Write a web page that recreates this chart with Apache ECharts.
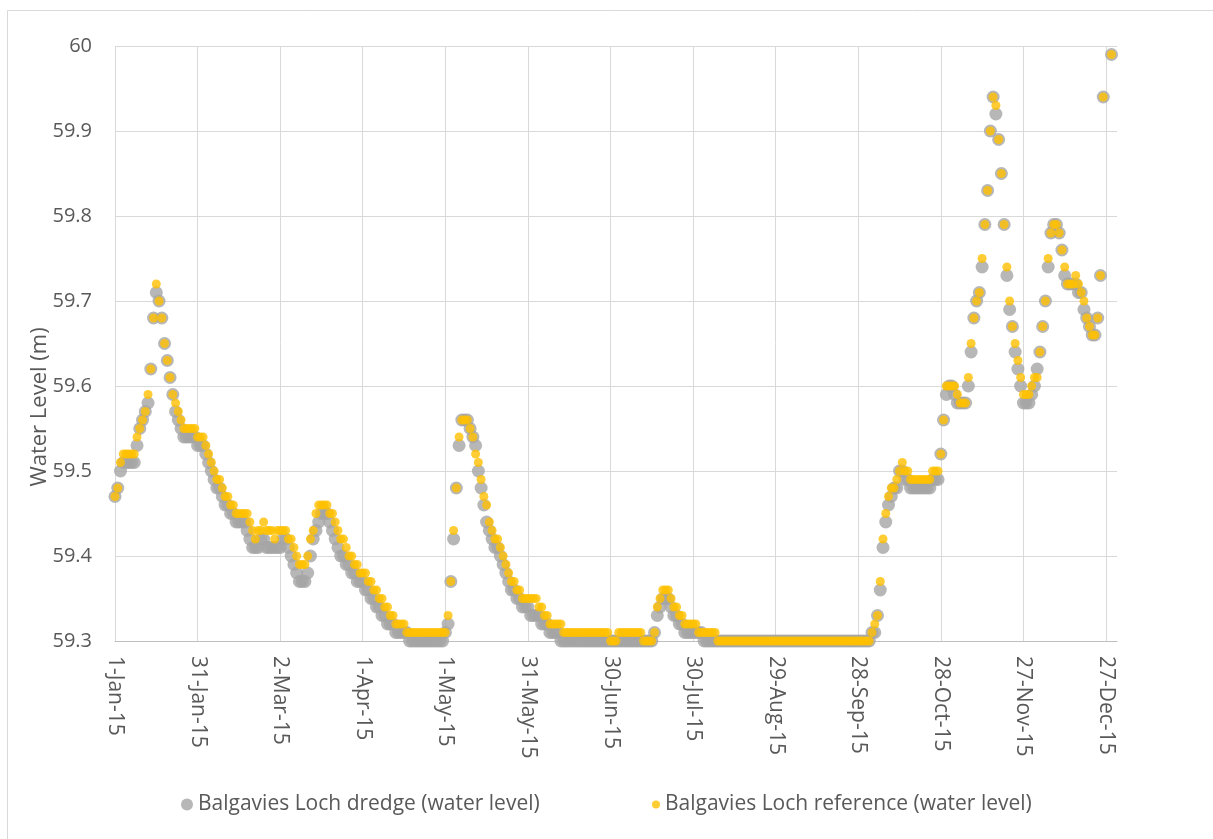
<!DOCTYPE html>
<html>
<head>
<meta charset="utf-8">
<script src="https://cdn.jsdelivr.net/npm/echarts@6/dist/echarts.min.js"></script>
<style>
html,body{margin:0;padding:0;background:#fff;}
#chart{width:1213px;height:839px;}
</style>
</head>
<body>
<div id="chart"></div>
<script>
// ---- tick labels (every 30 days from 1-Jan-15) ----
const xTickLabels = ['1-Jan-15','31-Jan-15','2-Mar-15','1-Apr-15','1-May-15','31-May-15','30-Jun-15','30-Jul-15','29-Aug-15','28-Sep-15','28-Oct-15','27-Nov-15','27-Dec-15'];
const seriesNames = ['Balgavies Loch dredge (water level)', 'Balgavies Loch reference (water level)'];

// ---- daily water level (m), one entry per day of the month ----
const dredgeJan = [59.47,59.48,59.50,59.51,59.51,59.51,59.51,59.51,59.53,59.55,59.56,59.57,59.58,59.62,59.68,59.71,59.70,59.68,59.65,59.63,59.61,59.59,59.57,59.56,59.55,59.54,59.54,59.54,59.54,59.54,59.53];
const dredgeFeb = [59.53,59.53,59.52,59.51,59.50,59.49,59.48,59.48,59.47,59.46,59.46,59.45,59.45,59.44,59.44,59.44,59.44,59.43,59.42,59.41,59.41,59.41,59.42,59.42,59.41,59.41,59.41,59.41];
const dredgeMar = [59.41,59.41,59.42,59.42,59.41,59.40,59.39,59.38,59.37,59.37,59.37,59.38,59.40,59.42,59.43,59.44,59.45,59.45,59.45,59.44,59.43,59.42,59.41,59.40,59.40,59.39,59.39,59.38,59.38,59.37,59.37];
const dredgeApr = [59.37,59.36,59.36,59.35,59.35,59.34,59.34,59.33,59.33,59.32,59.32,59.32,59.31,59.31,59.31,59.31,59.31,59.30,59.30,59.30,59.30,59.30,59.30,59.30,59.30,59.30,59.30,59.30,59.30,59.30];
const dredgeMay = [59.31,59.32,59.37,59.42,59.48,59.53,59.56,59.56,59.56,59.55,59.54,59.53,59.50,59.48,59.46,59.44,59.43,59.42,59.41,59.41,59.40,59.39,59.38,59.37,59.36,59.36,59.35,59.35,59.34,59.34,59.34];
const dredgeJun = [59.33,59.33,59.33,59.33,59.32,59.32,59.32,59.31,59.31,59.31,59.31,59.30,59.30,59.30,59.30,59.30,59.30,59.30,59.30,59.30,59.30,59.30,59.30,59.30,59.30,59.30,59.30,59.30,59.30,59.30];
const dredgeJul = [59.30,59.30,59.30,59.30,59.30,59.30,59.30,59.30,59.30,59.30,59.30,59.30,59.30,59.30,59.30,59.31,59.33,59.34,59.35,59.35,59.35,59.34,59.33,59.33,59.32,59.32,59.31,59.31,59.31,59.31,59.31];
const dredgeAug = [59.31,59.31,59.30,59.30,59.30,59.30,59.30,59.30,59.30,59.30,59.30,59.30,59.30,59.30,59.30,59.30,59.30,59.30,59.30,59.30,59.30,59.30,59.30,59.30,59.30,59.30,59.30,59.30,59.30,59.30,59.30];
const dredgeSep = [59.30,59.30,59.30,59.30,59.30,59.30,59.30,59.30,59.30,59.30,59.30,59.30,59.30,59.30,59.30,59.30,59.30,59.30,59.30,59.30,59.30,59.30,59.30,59.30,59.30,59.30,59.30,59.30,59.30,59.30];
const dredgeOct = [59.30,59.30,59.31,59.31,59.33,59.36,59.41,59.44,59.46,59.47,59.48,59.48,59.50,59.50,59.49,59.49,59.48,59.48,59.48,59.48,59.48,59.48,59.48,59.48,59.49,59.49,59.49,59.52,59.56,59.59,59.60];
const dredgeNov = [59.60,59.59,59.58,59.58,59.58,59.58,59.60,59.64,59.68,59.70,59.71,59.74,59.79,59.83,59.90,59.94,59.92,59.89,59.85,59.79,59.73,59.69,59.67,59.64,59.62,59.60,59.58,59.58,59.58,59.59];
const dredgeDec = [59.60,59.62,59.64,59.67,59.70,59.74,59.78,59.79,59.79,59.78,59.76,59.73,59.72,59.72,59.72,59.72,59.71,59.71,59.69,59.68,59.67,59.66,59.66,59.68,59.73,59.94,null,null,59.99,null,null];

const referenceJan = [59.47,59.48,59.51,59.52,59.52,59.52,59.52,59.52,59.54,59.55,59.56,59.57,59.59,59.62,59.68,59.72,59.70,59.68,59.65,59.63,59.61,59.59,59.58,59.57,59.56,59.55,59.55,59.55,59.55,59.55,59.54];
const referenceFeb = [59.54,59.54,59.53,59.52,59.51,59.50,59.49,59.49,59.48,59.47,59.47,59.46,59.46,59.45,59.45,59.45,59.45,59.45,59.44,59.43,59.42,59.43,59.43,59.44,59.43,59.43,59.43,59.42];
const referenceMar = [59.43,59.43,59.43,59.43,59.42,59.42,59.41,59.40,59.39,59.39,59.39,59.40,59.42,59.43,59.45,59.46,59.46,59.46,59.46,59.45,59.45,59.44,59.43,59.42,59.42,59.41,59.40,59.40,59.39,59.39,59.38];
const referenceApr = [59.38,59.38,59.37,59.37,59.36,59.36,59.35,59.35,59.34,59.34,59.33,59.33,59.32,59.32,59.32,59.32,59.31,59.31,59.31,59.31,59.31,59.31,59.31,59.31,59.31,59.31,59.31,59.31,59.31,59.31];
const referenceMay = [59.31,59.33,59.37,59.43,59.48,59.54,59.56,59.56,59.56,59.55,59.54,59.52,59.51,59.49,59.47,59.46,59.44,59.43,59.42,59.42,59.41,59.40,59.39,59.38,59.37,59.37,59.36,59.36,59.35,59.35,59.35];
const referenceJun = [59.35,59.35,59.35,59.34,59.34,59.33,59.33,59.32,59.32,59.32,59.32,59.32,59.31,59.31,59.31,59.31,59.31,59.31,59.31,59.31,59.31,59.31,59.31,59.31,59.31,59.31,59.31,59.31,59.31,59.30];
const referenceJul = [59.30,59.30,59.31,59.31,59.31,59.31,59.31,59.31,59.31,59.31,59.31,59.30,59.30,59.30,59.30,59.31,59.34,59.35,59.36,59.36,59.36,59.35,59.34,59.34,59.33,59.33,59.32,59.32,59.32,59.32,59.32];
const referenceAug = [59.31,59.31,59.31,59.31,59.31,59.31,59.31,59.30,59.30,59.30,59.30,59.30,59.30,59.30,59.30,59.30,59.30,59.30,59.30,59.30,59.30,59.30,59.30,59.30,59.30,59.30,59.30,59.30,59.30,59.30,59.30];
const referenceSep = [59.30,59.30,59.30,59.30,59.30,59.30,59.30,59.30,59.30,59.30,59.30,59.30,59.30,59.30,59.30,59.30,59.30,59.30,59.30,59.30,59.30,59.30,59.30,59.30,59.30,59.30,59.30,59.30,59.30,59.30];
const referenceOct = [59.30,59.30,59.31,59.32,59.33,59.37,59.42,59.45,59.47,59.48,59.48,59.49,59.50,59.51,59.50,59.50,59.49,59.49,59.49,59.49,59.49,59.49,59.49,59.49,59.50,59.50,59.50,59.52,59.56,59.60,59.60];
const referenceNov = [59.60,59.60,59.59,59.58,59.58,59.58,59.61,59.65,59.68,59.70,59.71,59.75,59.79,59.83,59.90,59.94,59.93,59.89,59.85,59.79,59.74,59.70,59.67,59.65,59.63,59.61,59.59,59.59,59.59,59.60];
const referenceDec = [59.61,59.61,59.64,59.67,59.70,59.75,59.78,59.79,59.79,59.78,59.76,59.74,59.72,59.72,59.72,59.73,59.72,59.71,59.70,59.68,59.67,59.66,59.66,59.68,59.73,59.94,null,null,59.99,null,null];

// ---- build [dayOfYear, value] pairs ----
function toPoints(months) {
  const pts = [];
  let day = 0;
  months.forEach(function (m) {
    m.forEach(function (v) {
      if (v !== null) pts.push([day, v]);
      day++;
    });
  });
  return pts;
}
const dredgePoints = toPoints([dredgeJan,dredgeFeb,dredgeMar,dredgeApr,dredgeMay,dredgeJun,dredgeJul,dredgeAug,dredgeSep,dredgeOct,dredgeNov,dredgeDec]);
const referencePoints = toPoints([referenceJan,referenceFeb,referenceMar,referenceApr,referenceMay,referenceJun,referenceJul,referenceAug,referenceSep,referenceOct,referenceNov,referenceDec]);

const FONT = '"Open Sans", Lato, sans-serif';
const TXT = '#595959';

const chart = echarts.init(document.getElementById('chart'));
chart.setOption({
  animation: false,
  backgroundColor: '#fff',
  textStyle: { fontFamily: FONT },
  graphic: [
    { type: 'rect', silent: true, z: -10,
      shape: { x: 7.5, y: 10.5, width: 1220, height: 840 },
      style: { fill: 'none', stroke: '#D9D9D9', lineWidth: 1 } },
    { type: 'text', silent: true, x: 40, y: 407, rotation: Math.PI / 2,
      style: { text: 'Water Level (m)', fontSize: 22, fontFamily: FONT, fill: TXT, align: 'center', verticalAlign: 'middle' } }
  ],
  grid: { left: 115, right: 96, top: 46, bottom: 198, containLabel: false },
  xAxis: {
    type: 'value', min: 0, max: 364, interval: 30,
    axisLine: { show: true, lineStyle: { color: '#BFBFBF', width: 1 } },
    axisTick: { show: false },
    splitLine: { show: true, showMaxLine: false, lineStyle: { color: '#D9D9D9', width: 1 } },
    axisLabel: {
      rotate: -90, margin: 15, fontSize: 21, color: TXT, fontFamily: FONT,
      showMaxLabel: false,
      formatter: function (v) { return (v % 30 === 0 && xTickLabels[v / 30]) ? xTickLabels[v / 30] : ''; }
    }
  },
  yAxis: {
    type: 'value', min: 59.3, max: 60, interval: 0.1,
    axisLine: { show: false }, axisTick: { show: false },
    splitLine: { show: true, lineStyle: { color: '#D9D9D9', width: 1 } },
    axisLabel: { margin: 23, fontSize: 20, color: TXT, fontFamily: FONT,
      formatter: function (v) { return String(+v.toFixed(1)); } }
  },
  legend: [
    { data: [seriesNames[0]], left: 176, top: 789, icon: 'circle', itemWidth: 12, itemHeight: 12,
      textStyle: { fontSize: 21, color: TXT, fontFamily: FONT } },
    { data: [seriesNames[1]], left: 647, top: 789, icon: 'circle', itemWidth: 8, itemHeight: 8,
      textStyle: { fontSize: 21, color: TXT, fontFamily: FONT } }
  ],
  series: [
    { name: seriesNames[0], type: 'scatter', data: dredgePoints, symbol: 'circle', symbolSize: 13,
      itemStyle: { color: '#A5A5A5' }, z: 2 },
    { name: seriesNames[1], type: 'scatter', data: referencePoints, symbol: 'circle', symbolSize: 9,
      itemStyle: { color: '#FFC000' }, z: 3 }
  ]
});
</script>
</body>
</html>
